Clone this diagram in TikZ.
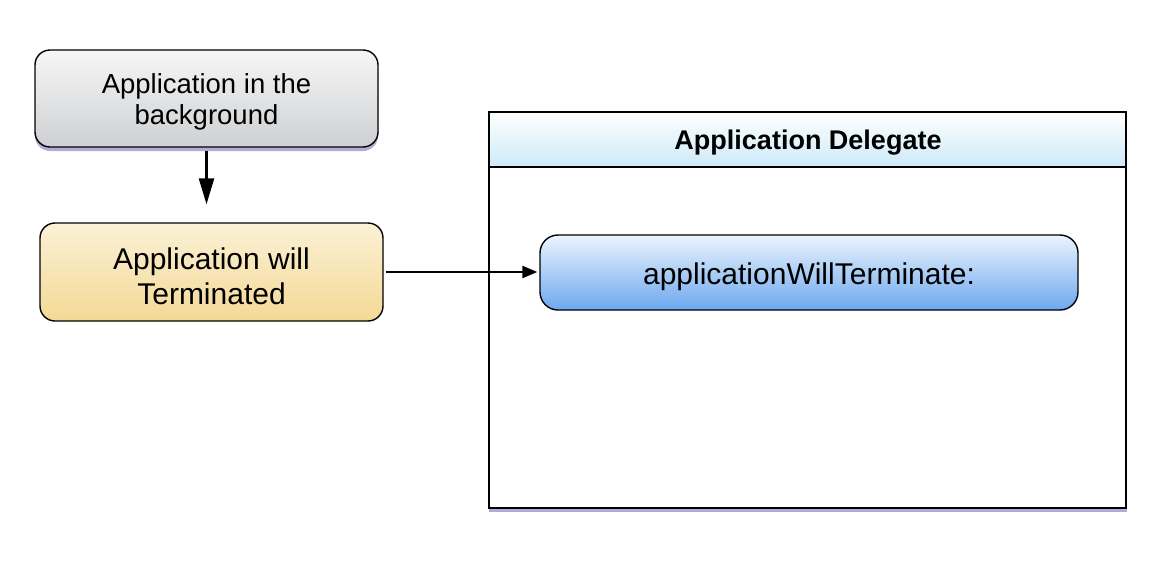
\documentclass[tikz,border=0pt]{standalone}
\usepackage{fontspec}
\setmainfont{Liberation Sans}
\usetikzlibrary{arrows.meta}
\definecolor{shadowpurple}{RGB}{176,172,218}
\definecolor{graytop}{RGB}{246,246,246}
\definecolor{graybot}{RGB}{206,208,210}
\definecolor{yeltop}{RGB}{251,241,214}
\definecolor{yelbot}{RGB}{244,217,150}
\definecolor{headtop}{RGB}{255,255,255}
\definecolor{headbot}{RGB}{204,234,248}
\definecolor{bluetop}{RGB}{236,244,253}
\definecolor{bluebot}{RGB}{108,168,238}
\tikzset{
  flowbox/.style={draw=black, line width=1.4pt, rounded corners=15pt, inner sep=0pt},
  boxtext/.style={align=center, inner sep=0pt},
  conn/.style={draw=black, line width=2.4pt},
  bigtip/.style={-{Triangle[length=26pt,width=15pt]}},
  smalltip/.style={-{Triangle[length=15pt,width=12pt]}},
}
\begin{document}
\begin{tikzpicture}[x=1pt,y=-1pt]
\useasboundingbox (0,0) rectangle (1166,566);
% shadows
\fill[shadowpurple, rounded corners=15pt] (35,53) rectangle (378,151);
\fill[shadowpurple] (489,112) rectangle (1127,512);
\fill[black!35, rounded corners=18pt] (540,238) rectangle (1078,313);
% top box
\node[flowbox, top color=graytop, bottom color=graybot, minimum width=343pt, minimum height=97pt] (bg) at (206.5,98.5) {};
\node[boxtext, font=\fontsize{27.5}{31}\selectfont] (bgtext) at (206.5,102) {Application in the\\background};
% yellow box
\node[flowbox, top color=yeltop, bottom color=yelbot, minimum width=343pt, minimum height=98pt] (term) at (211.5,272) {};
\node[boxtext, font=\fontsize{30}{35}\selectfont] (termtext) at (211.5,276) {Application will\\Terminated};
% delegate container
\node[draw=black, line width=2pt, fill=white, minimum width=637pt, minimum height=396pt, inner sep=0pt] (delegate) at (807.5,310) {};
\node[draw=black, line width=1.6pt, top color=headtop, bottom color=headbot, minimum width=637pt, minimum height=55pt, inner sep=0pt] (header) at (807.5,139.5) {};
\node[boxtext, font=\fontsize{27}{30}\selectfont\bfseries] (headertext) at (808,143) {Application Delegate};
% method node
\node[flowbox, rounded corners=18pt, top color=bluetop, bottom color=bluebot, minimum width=538pt, minimum height=75pt] (method) at (809,272.5) {};
\node[boxtext, font=\fontsize{30}{34}\selectfont] (methodtext) at (809,277) {applicationWillTerminate:};
% connectors
\draw[conn, bigtip, shorten <=3pt, shorten >=18pt] (bg.south) -- (bg.south |- term.north);
\draw[conn, smalltip, shorten <=2pt, shorten >=2pt] (term.east) -- (term.east -| method.west);
\end{tikzpicture}
\end{document}
